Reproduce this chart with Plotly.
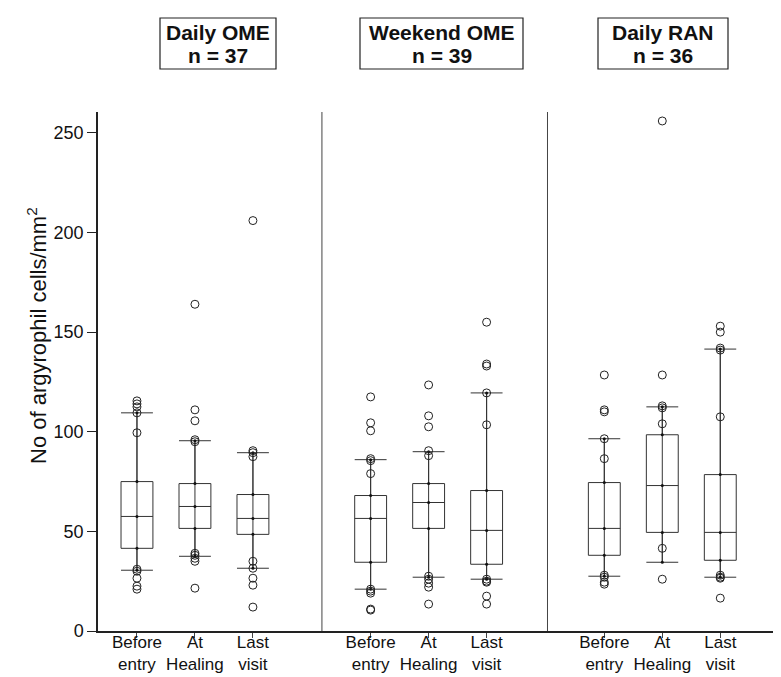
import plotly.graph_objects as go

# ---------------- data ----------------
panels = ["Daily OME", "Weekend OME", "Daily RAN"]
panel_n = ["n = 37", "n = 39", "n = 36"]
visits = ["Before<br>entry", "At<br>Healing", "Last<br>visit"]
y_title = "No of argyrophil cells/mm<sup>2</sup>"

# box statistics, order: panel1 (BE, AH, LV), panel2 (...), panel3 (...)
lower_fence = [30.5, 37.5, 31.5, 21.0, 27.0, 26.0, 27.5, 34.5, 27.0]
q1_vals     = [41.5, 51.5, 48.5, 34.5, 51.5, 33.5, 38.0, 49.5, 35.5]
median_vals = [57.5, 62.5, 56.5, 56.5, 64.5, 50.5, 51.5, 73.0, 49.5]
q3_vals     = [75.0, 74.0, 68.5, 68.0, 74.0, 70.5, 74.5, 98.5, 78.5]
upper_fence = [109.5, 95.5, 89.5, 86.0, 90.0, 119.5, 96.5, 112.5, 141.5]

outliers = [
    [115.5, 114, 112.5, 109.5, 99.5, 31, 30, 26.5, 22.5, 21],
    [164, 111, 105.5, 96, 95, 39, 38, 36.5, 35, 21.5],
    [206, 90.5, 89.5, 87.5, 35, 31.5, 26.5, 23, 12],
    [117.5, 104.5, 100.5, 86.5, 85.5, 79, 21, 20, 19, 11, 10.5],
    [123.5, 108, 102.5, 90.5, 88, 27.5, 26, 24, 22, 13.5],
    [155, 134, 133, 119.5, 103.5, 26, 25, 24.5, 17.5, 13.5],
    [128.5, 111, 110, 96.5, 86.5, 28, 27, 24.5, 23.5],
    [256, 128.5, 113, 112, 104, 41.5, 26],
    [153, 150, 142, 141, 107.5, 28, 27, 26.5, 16.5],
]

y_ticks = [0, 50, 100, 150, 200, 250]

# ---------------- layout constants ----------------
FONT = "Liberation Sans, Arial, sans-serif"
W, H = 781, 677
ML, MR, MT, MB = 90, 9, 104, 54
PANEL_STEP = 4.03
BOX_W = 0.55
Y_MAX = 260.5
X_RANGE = [-0.672, 11.09]
SEPARATORS = [3.19, 7.08]
LINE_COL = "#333333"

positions = [p * PANEL_STEP + i for p in range(len(panels)) for i in range(len(visits))]
tick_text = [v for _ in panels for v in visits]

def px_to_paper_x(px):
    return (px - ML) / (W - ML - MR)

def px_to_paper_y(py):
    return (H - MB - py) / (H - MT - MB)

fig = go.Figure()

# whisker line running through each box
wx, wy = [], []
for x, lo, hi in zip(positions, lower_fence, upper_fence):
    wx += [x, x, None]
    wy += [lo, hi, None]
fig.add_trace(go.Scatter(x=wx, y=wy, mode="lines",
                         line=dict(color=LINE_COL, width=1),
                         hoverinfo="skip", showlegend=False))

# boxes
fig.add_trace(go.Box(
    x=positions, q1=q1_vals, median=median_vals, q3=q3_vals,
    lowerfence=lower_fence, upperfence=upper_fence,
    width=BOX_W, whiskerwidth=1, boxpoints=False,
    line=dict(color=LINE_COL, width=1),
    fillcolor="rgba(0,0,0,0)", showlegend=False,
))

# small dots at the statistics on the centre line
dx, dy = [], []
for x, a, b, c, d, e in zip(positions, lower_fence, q1_vals, median_vals, q3_vals, upper_fence):
    dx += [x] * 5
    dy += [a, b, c, d, e]
fig.add_trace(go.Scatter(x=dx, y=dy, mode="markers",
                         marker=dict(color="#111", size=3),
                         hoverinfo="skip", showlegend=False))

# outliers
ox, oy = [], []
for x, vals in zip(positions, outliers):
    ox += [x] * len(vals)
    oy += vals
fig.add_trace(go.Scatter(x=ox, y=oy, mode="markers",
                         marker=dict(symbol="circle-open", size=8,
                                     color="#222", line=dict(width=1)),
                         showlegend=False))

shapes = []
for sx in SEPARATORS:
    shapes.append(dict(type="line", xref="x", yref="y", x0=sx, x1=sx,
                       y0=0, y1=Y_MAX, line=dict(color="#444", width=1)))

# title boxes (pixel extents)
title_boxes = [(152, 268), (352, 515), (590, 720)]
annotations = []
for (x0, x1), name, n in zip(title_boxes, panels, panel_n):
    shapes.append(dict(type="rect", xref="paper", yref="paper",
                       x0=px_to_paper_x(x0), x1=px_to_paper_x(x1),
                       y0=px_to_paper_y(61), y1=px_to_paper_y(10),
                       line=dict(color="#222", width=1.2)))
    cx = px_to_paper_x((x0 + x1) / 2)
    annotations.append(dict(text=name, x=cx, y=px_to_paper_y(25), xref="paper", yref="paper",
                            showarrow=False, xanchor="center", yanchor="middle",
                            font=dict(family=FONT, size=21, color="#111", weight="bold")))
    annotations.append(dict(text=n, x=cx, y=px_to_paper_y(47), xref="paper", yref="paper",
                            showarrow=False, xanchor="center", yanchor="middle",
                            font=dict(family=FONT, size=21, color="#111", weight="bold")))

# y axis title as a rotated annotation
annotations.append(dict(text=y_title, x=px_to_paper_x(29), y=px_to_paper_y(328),
                        xref="paper", yref="paper", showarrow=False, textangle=-90,
                        xanchor="center", yanchor="middle",
                        font=dict(family=FONT, size=22, color="#111")))

fig.update_layout(
    width=W, height=H,
    margin=dict(l=ML, r=MR, t=MT, b=MB, pad=0, autoexpand=False),
    paper_bgcolor="white", plot_bgcolor="white",
    font=dict(family=FONT, size=17, color="#111"),
    shapes=shapes, annotations=annotations,
    showlegend=False,
    xaxis=dict(range=X_RANGE, tickmode="array", tickvals=positions, ticktext=tick_text,
               automargin=False, tickangle=0, ticklabelstandoff=-10,
               showgrid=False, zeroline=False, showline=True, linecolor="#222", linewidth=1.5,
               ticks="outside", ticklen=5, tickcolor="#444", tickfont=dict(size=17)),
    yaxis=dict(range=[0, Y_MAX], tickmode="array", tickvals=y_ticks, automargin=False,
               showgrid=False, zeroline=False, showline=True, linecolor="#222", linewidth=1.5,
               ticks="outside", ticklen=9, tickcolor="#222", tickfont=dict(size=18)),
)

fig.write_html("out.html")
